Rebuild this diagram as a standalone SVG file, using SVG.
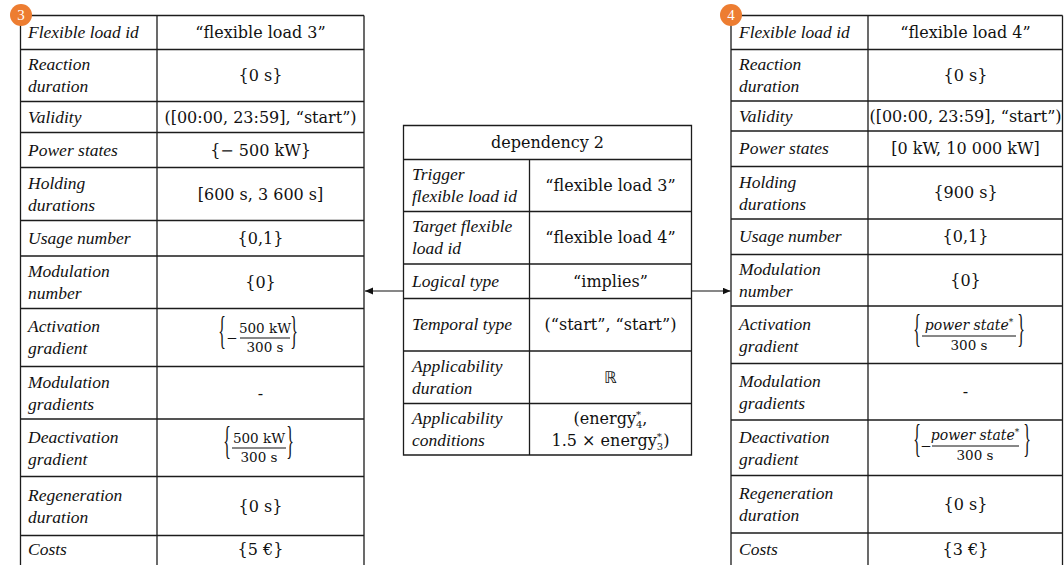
<svg xmlns="http://www.w3.org/2000/svg" width="1064" height="565" viewBox="0 0 1064 565">
<defs>
<style>
.grid{fill:none;stroke:#1c1c1c;stroke-width:1.3}
.l{font-family:"Liberation Serif",serif;font-style:italic;font-size:17.5px;fill:#111}
.v{font-family:"DejaVu Serif","DejaVu Sans",serif;font-size:16px;text-anchor:middle;fill:#111}
.m{font-family:"DejaVu Serif",serif;font-size:13.5px;text-anchor:middle;fill:#111}
.mi{font-family:"DejaVu Serif",serif;font-style:italic;font-size:14px;text-anchor:middle;fill:#111}
.br{font-family:"Liberation Serif",serif;font-size:16px;text-anchor:middle;fill:#111}
.bar{stroke:#111;stroke-width:1}
.badge{fill:#ED7D31}
.bt{font-family:"Liberation Serif",serif;font-size:15px;fill:#fff;text-anchor:middle}
.conn{stroke:#111;stroke-width:1.2;fill:none}
</style>
<marker id="ah" markerWidth="9" markerHeight="8" refX="8" refY="3.5" orient="auto" markerUnits="userSpaceOnUse">
<path d="M0,0 L8,3.5 L0,7 z" fill="#111"/>
</marker>
</defs>
<rect width="1064" height="565" fill="#fff"/>

<g id="connectors">
<line class="conn" x1="403.5" y1="291" x2="365" y2="291" marker-end="url(#ah)"/>
<line class="conn" x1="691.5" y1="291" x2="730.5" y2="291" marker-end="url(#ah)"/>
</g>

<g id="flexible-load-3">
<path class="grid" d="M20.5 15.5V570M157 15.5V570M364 15.5V570M20.5 15.5H364M20.5 49.5H364M20.5 101.5H364M20.5 132.5H364M20.5 167.5H364M20.5 220.5H364M20.5 256H364M20.5 308.5H364M20.5 366.5H364M20.5 419H364M20.5 476.5H364M20.5 535.5H364"/>
<text class="l" x="28" y="38">Flexible load id</text>
<text class="l" x="28" y="70">Reaction</text><text class="l" x="28" y="92">duration</text>
<text class="l" x="28" y="122.5">Validity</text>
<text class="l" x="28" y="155.5">Power states</text>
<text class="l" x="28" y="188.5">Holding</text><text class="l" x="28" y="210.5">durations</text>
<text class="l" x="28" y="243.5">Usage number</text>
<text class="l" x="28" y="276.5">Modulation</text><text class="l" x="28" y="298.5">number</text>
<text class="l" x="28" y="332">Activation</text><text class="l" x="28" y="354">gradient</text>
<text class="l" x="28" y="387.5">Modulation</text><text class="l" x="28" y="409.5">gradients</text>
<text class="l" x="28" y="442.5">Deactivation</text><text class="l" x="28" y="464.5">gradient</text>
<text class="l" x="28" y="500.5">Regeneration</text><text class="l" x="28" y="522.5">duration</text>
<text class="l" x="28" y="554.5">Costs</text>
<text class="v" x="260.5" y="38">“flexible load 3”</text>
<text class="v" x="260.5" y="81">{0 s}</text>
<text class="v" x="260.5" y="122.5">([00:00, 23:59], “start”)</text>
<text class="v" x="260.5" y="155.5">{− 500 kW}</text>
<text class="v" x="260.5" y="199.5">[600 s, 3 600 s]</text>
<text class="v" x="260.5" y="243.5">{0,1}</text>
<text class="v" x="260.5" y="287.5">{0}</text>
<text class="br" transform="translate(222,344) scale(1,2.5)">{</text>
<text class="m" x="232" y="342.5">−</text>
<text class="m" x="265" y="333">500 kW</text>
<line class="bar" x1="240" y1="338" x2="290" y2="338"/>
<text class="m" x="265" y="351.5">300 s</text>
<text class="br" transform="translate(294,344) scale(1,2.5)">}</text>
<text class="v" x="260.5" y="398.5">-</text>
<text class="br" transform="translate(227,454) scale(1,2.5)">{</text>
<text class="m" x="259" y="443">500 kW</text>
<line class="bar" x1="232" y1="448" x2="286" y2="448"/>
<text class="m" x="259" y="461.5">300 s</text>
<text class="br" transform="translate(290,454) scale(1,2.5)">}</text>
<text class="v" x="260.5" y="511.5">{0 s}</text>
<text class="v" x="260.5" y="554.5">{5 €}</text>
<circle class="badge" cx="21" cy="15" r="11"/>
<text class="bt" x="21" y="20">3</text>
</g>

<g id="dependency-2">
<path class="grid" d="M403.5 125.5H691.5V455H403.5Z M529.5 159.5V455 M403.5 159.5H691.5M403.5 211.5H691.5M403.5 264H691.5M403.5 298.5H691.5M403.5 351H691.5M403.5 403.5H691.5"/>
<text class="v" x="547.5" y="148">dependency 2</text>
<text class="l" x="412" y="180">Trigger</text><text class="l" x="412" y="202">flexible load id</text>
<text class="l" x="412" y="232">Target flexible</text><text class="l" x="412" y="254">load id</text>
<text class="l" x="412" y="286.5">Logical type</text>
<text class="l" x="412" y="330">Temporal type</text>
<text class="l" x="412" y="371.5">Applicability</text><text class="l" x="412" y="393.5">duration</text>
<text class="l" x="412" y="423.5">Applicability</text><text class="l" x="412" y="445.5">conditions</text>
<text class="v" x="610.5" y="191">“flexible load 3”</text>
<text class="v" x="610.5" y="243">“flexible load 4”</text>
<text class="v" x="610.5" y="286.5">“implies”</text>
<text class="v" x="610.5" y="330">(“start”, “start”)</text>
<text class="v" x="610.5" y="382.5" style="font-family:'DejaVu Sans',sans-serif;fill:#111">ℝ</text>
<text class="v" x="610.5" y="423.5">(energy<tspan font-size="10" dy="-6">*</tspan><tspan font-size="10" dx="-5" dy="10">4</tspan><tspan dy="-4">,</tspan></text>
<text class="v" x="610.5" y="445.5">1.5 × energy<tspan font-size="10" dy="-6">*</tspan><tspan font-size="10" dx="-5" dy="10">3</tspan><tspan dy="-4">)</tspan></text>
</g>

<g id="flexible-load-4">
<path class="grid" d="M731 15.5V570M868 15.5V570M1062.5 15.5V570M731 15.5H1062.5M731 49.5H1062.5M731 101H1062.5M731 131H1062.5M731 166.5H1062.5M731 219H1062.5M731 254.5H1062.5M731 306H1062.5M731 363.5H1062.5M731 420H1062.5M731 475.5H1062.5M731 533H1062.5"/>
<text class="l" x="739" y="38">Flexible load id</text>
<text class="l" x="739" y="69.5">Reaction</text><text class="l" x="739" y="91.5">duration</text>
<text class="l" x="739" y="121.5">Validity</text>
<text class="l" x="739" y="154">Power states</text>
<text class="l" x="739" y="187.5">Holding</text><text class="l" x="739" y="209.5">durations</text>
<text class="l" x="739" y="242">Usage number</text>
<text class="l" x="739" y="274.5">Modulation</text><text class="l" x="739" y="296.5">number</text>
<text class="l" x="739" y="329.5">Activation</text><text class="l" x="739" y="351.5">gradient</text>
<text class="l" x="739" y="386.5">Modulation</text><text class="l" x="739" y="408.5">gradients</text>
<text class="l" x="739" y="442.5">Deactivation</text><text class="l" x="739" y="464.5">gradient</text>
<text class="l" x="739" y="498.5">Regeneration</text><text class="l" x="739" y="520.5">duration</text>
<text class="l" x="739" y="554.5">Costs</text>
<text class="v" x="965.5" y="38">“flexible load 4”</text>
<text class="v" x="965.5" y="80.5">{0 s}</text>
<text class="v" x="965.5" y="121.5">([00:00, 23:59], “start”)</text>
<text class="v" x="965.5" y="154">[0 kW, 10 000 kW]</text>
<text class="v" x="965.5" y="198">{900 s}</text>
<text class="v" x="965.5" y="242">{0,1}</text>
<text class="v" x="965.5" y="285.5">{0}</text>
<text class="br" transform="translate(917,342) scale(1,2.5)">{</text>
<text class="mi" x="969" y="330">power state<tspan font-size="9" dy="-5">*</tspan></text>
<line class="bar" x1="922" y1="336" x2="1016" y2="336"/>
<text class="m" x="969" y="350">300 s</text>
<text class="br" transform="translate(1021,342) scale(1,2.5)">}</text>
<text class="v" x="965.5" y="397">-</text>
<text class="br" transform="translate(917,452) scale(1,2.5)">{</text>
<text class="m" x="926" y="450.5">−</text>
<text class="mi" x="975" y="440">power state<tspan font-size="9" dy="-5">*</tspan></text>
<line class="bar" x1="932" y1="446" x2="1019" y2="446"/>
<text class="m" x="975" y="460">300 s</text>
<text class="br" transform="translate(1027,452) scale(1,2.5)">}</text>
<text class="v" x="965.5" y="509.5">{0 s}</text>
<text class="v" x="965.5" y="554.5">{3 €}</text>
<circle class="badge" cx="731" cy="15" r="11"/>
<text class="bt" x="731" y="20">4</text>
</g>
</svg>
